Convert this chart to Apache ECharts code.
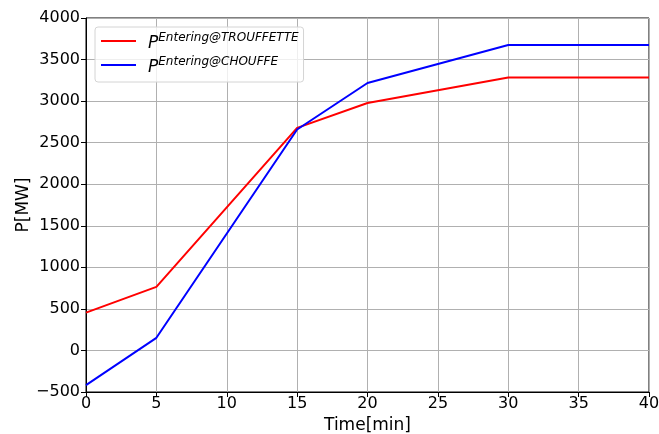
<!DOCTYPE html>
<html><head><meta charset="utf-8">
<script src="https://cdn.jsdelivr.net/npm/echarts@6/dist/echarts.min.js"></script>
<style>html,body{margin:0;padding:0;background:#fff}#c{width:659px;height:434px}</style>
</head><body><div id="c"></div>
<script>
const time = [0, 5, 15, 20, 30, 40];
const pTrouffette = [455, 765, 2678, 2978, 3285, 3285];
const pChouffe = [-418, 152, 2658, 3218, 3675, 3675];
const seriesNames = ['Entering@TROUFFETTE', 'Entering@CHOUFFE'];
const xTicks = [0,5,10,15,20,25,30,35,40];
const yTicks = [-500,0,500,1000,1500,2000,2500,3000,3500,4000];

const font = 'DejaVu Sans';
const chart = echarts.init(document.getElementById('c'));
chart.setOption({
  animation: false,
  textStyle: {fontFamily: font},
  grid: {left: 86, right: 10, top: 18, bottom: 42, containLabel: false, outerBoundsMode: 'none',
         show: true, borderColor: '#000', borderWidth: 1},
  legend: {
    left: 95, top: 27, orient: 'vertical',
    backgroundColor: 'rgba(255,255,255,0.8)', borderColor: '#d4d4d4', borderWidth: 1, borderRadius: 3,
    padding: [5, 5, 3, 6], itemGap: 1, itemWidth: 35, itemHeight: 14,
    icon: 'path://M0,6 L35,6 L35,8 L0,8 Z',
    data: seriesNames.map(n => ({name: n})),
    formatter: n => '{p|P}{s|' + n + '}',
    textStyle: {
      fontFamily: font,
      rich: {
        p: {fontSize: 17, fontStyle: 'italic', fontFamily: font, color: '#000', verticalAlign: 'top', lineHeight: 18, padding: [3,0,3,7]},
        s: {fontSize: 12, fontStyle: 'italic', fontFamily: font, color: '#000', verticalAlign: 'top', lineHeight: 16, padding: [0,0,8,0]}
      }
    }
  },
  xAxis: {
    type: 'value', min: 0, max: 40, interval: 5,
    name: 'Time[min]', nameLocation: 'middle', nameGap: 25, nameMoveOverlap: false,
    nameTextStyle: {fontSize: 17, color: '#000', fontFamily: font},
    axisLine: {show: true, onZero: false, lineStyle: {color: '#000', width: 1}},
    axisTick: {show: true, length: 5, lineStyle: {color: '#000'}},
    axisLabel: {fontSize: 16, color: '#000', margin: 4, fontFamily: font},
    splitLine: {show: true, lineStyle: {color: '#b0b0b0', width: 1}}
  },
  yAxis: {
    type: 'value', min: -500, max: 4000, interval: 500,
    name: 'P[MW]', nameLocation: 'middle', nameGap: 54, nameMoveOverlap: false,
    nameTextStyle: {fontSize: 17, color: '#000', fontFamily: font},
    axisLine: {show: true, onZero: false, lineStyle: {color: '#000', width: 1}},
    axisTick: {show: true, length: 5, lineStyle: {color: '#000'}},
    axisLabel: {fontSize: 16, color: '#000', margin: 6, fontFamily: font, formatter: v => String(v).replace('-', '\u2212')},
    splitLine: {show: true, lineStyle: {color: '#b0b0b0', width: 1}}
  },
  series: [
    {name: seriesNames[0], type: 'line', data: time.map((t,i)=>[t, pTrouffette[i]]), showSymbol: false, lineStyle: {color: '#ff0000', width: 2}, itemStyle: {color: '#ff0000'}},
    {name: seriesNames[1], type: 'line', data: time.map((t,i)=>[t, pChouffe[i]]), showSymbol: false, lineStyle: {color: '#0000ff', width: 2}, itemStyle: {color: '#0000ff'}}
  ]
});
</script></body></html>
